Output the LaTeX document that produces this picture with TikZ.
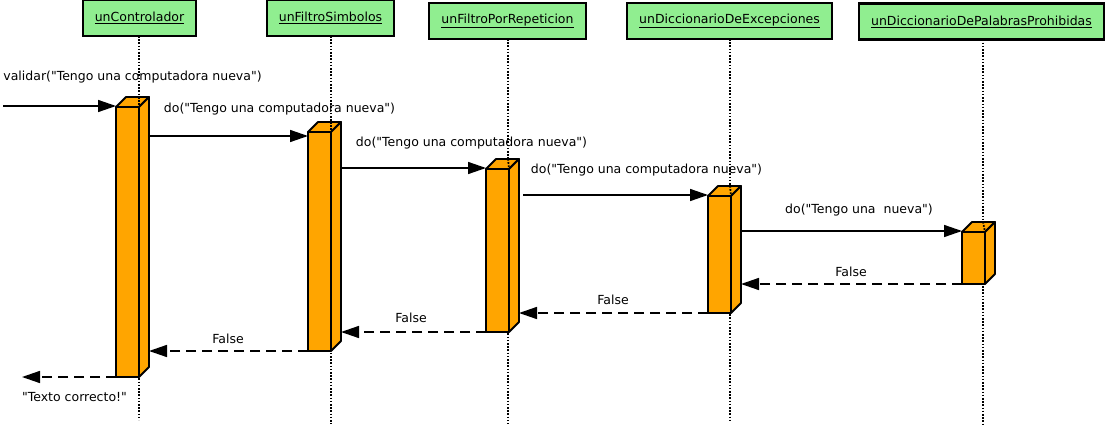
\documentclass[tikz,border=0pt]{standalone}
\usepackage{fontspec}
\setmainfont{DejaVu Sans}[Ligatures=TeXOff]
\usetikzlibrary{arrows.meta,calc}
\definecolor{hdrgreen}{HTML}{90EE90}
\definecolor{actorange}{HTML}{FFA500}
\tikzset{
  hdr/.style={draw=black, line width=2.4pt, fill=hdrgreen, minimum height=36pt, inner sep=0pt, outer sep=0pt, font=\fontsize{12.5}{15}\selectfont},
  lifeline/.style={line width=1.8pt, dash pattern=on 1.6pt off 1.6pt},
  act/.style={draw=black, line width=1.8pt, fill=actorange, minimum width=23pt, inner sep=0pt, outer sep=0pt, anchor=north east, line join=round},
  face/.style={draw=black, line width=1.8pt, fill=actorange, line join=round},
  msg/.style={line width=1.5pt, -{Triangle[length=18pt,width=12pt]}},
  ret/.style={line width=1.5pt, dash pattern=on 10pt off 6pt, -{Triangle[length=18pt,width=12pt]}},
  lbl/.style={inner sep=0pt, font=\fontsize{12.5}{15}\selectfont}
}
\newcommand\actfaces[2]{%
  \draw[face] (#1.north west) -- ++(10,-10) -- ++(23,0) -- (#1.north east) -- cycle;
  \draw[face] (#1.north east) -- ++(10,-10) -- ($(#1.south east)+(10,-10)$) -- (#1.south east) -- cycle;
  \draw[lifeline] (#2 |- {$(#1.north east)+(0,-10)$}) -- (#1.north east);
  \coordinate (s#1) at ($(#1.east)+(10,0)$);
}
\begin{document}
\begin{tikzpicture}[x=1pt,y=-1pt]
\useasboundingbox (0,0) rectangle (1106,428);
% headers
\node[hdr, minimum width=113pt] (h1) at (139.5,18) {\underline{unControlador}};
\node[hdr, minimum width=127pt] (h2) at (330.5,18) {\underline{unFiltroSimbolos}};
\node[hdr, minimum width=157pt] (h3) at (507.5,21) {\underline{unFiltroPorRepeticion}};
\node[hdr, minimum width=205pt] (h4) at (729.5,21) {\underline{unDiccionarioDeExcepciones}};
\node[hdr, minimum width=245pt] (h5) at (981.5,21.5) {\underline{unDiccionarioDePalabrasProhibidas}};
% lifeline ends
\coordinate (e1) at (139,420);
\coordinate (e2) at (331,424);
\coordinate (e3) at (508,424);
\coordinate (e4) at (730,420);
\coordinate (e5) at (983,424);
\draw[lifeline] (h1.south -| e1) -- (e1);
\draw[lifeline] (h2.south -| e2) -- (e2);
\draw[lifeline] (h3.south -| e3) -- (e3);
\draw[lifeline] (h4.south -| e4) -- (e4);
\draw[lifeline] (h5.south -| e5) -- (e5);
% activations
\node[act, minimum height=270pt] (a1) at (139,107) {};
\actfaces{a1}{e1}
\node[act, minimum height=219pt] (a2) at (331,132) {};
\actfaces{a2}{e2}
\node[act, minimum height=163pt] (a3) at (509,169) {};
\actfaces{a3}{e3}
\node[act, minimum height=117pt] (a4) at (731,196) {};
\actfaces{a4}{e4}
\node[act, minimum height=52pt] (a5) at (985,232) {};
\actfaces{a5}{e5}
% messages
\coordinate (in) at (3,106);
\coordinate (out) at (22,377);
\draw[msg] (in) -- (a1.west |- in);
\draw[msg] (sa1 |- 0,136) -- (a2.west |- 0,136);
\draw[msg] (sa2 |- 0,168) -- (a3.west |- 0,168);
\draw[msg] ([xshift=4pt]sa3 |- 0,195) -- (a4.west |- 0,195);
\draw[msg] (sa4 |- 0,231) -- (a5.west |- 0,231);
% returns
\draw[ret] (a5.south west) -- (sa4 |- a5.south west);
\draw[ret] (a4.south west) -- (sa3 |- a4.south west);
\draw[ret] (a3.south west) -- (sa2 |- a3.south west);
\draw[ret] (a2.south west) -- (sa1 |- a2.south west);
\draw[ret] (a1.south west) -- (out);
% labels
\node[lbl] (l0) at (132.5,77) {validar("Tengo una computadora nueva")};
\node[lbl] (l1) at (279.5,109) {do("Tengo una computadora nueva")};
\node[lbl] (l2) at (471.5,143) {do("Tengo una computadora nueva")};
\node[lbl] (l3) at (646.5,170) {do("Tengo una computadora nueva")};
\node[lbl] (l4) at (859,210) {do("Tengo una\ \ nueva")};
\node[lbl] (f5) at (851,272) {False};
\node[lbl] (f4) at (613,300) {False};
\node[lbl] (f3) at (411,318) {False};
\node[lbl] (f2) at (228,339) {False};
\node[lbl] (tc) at (74.5,397) {"Texto correcto!"};
\end{tikzpicture}
\end{document}
